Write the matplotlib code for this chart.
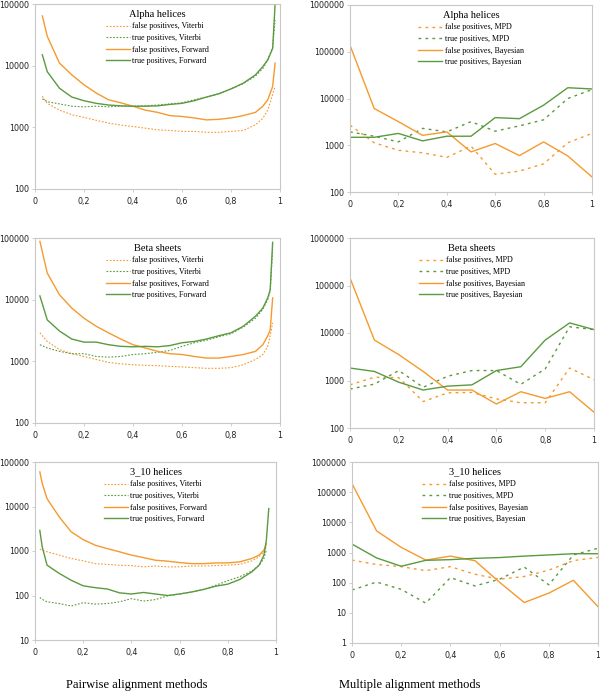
import numpy as np
import matplotlib.pyplot as plt
from matplotlib.ticker import FuncFormatter, FixedLocator

# ---------- pairwise: Alpha helices ----------
a_x = [0.03, 0.05, 0.1, 0.15, 0.2, 0.25, 0.3, 0.35, 0.4, 0.45, 0.5, 0.55, 0.6,
       0.65, 0.7, 0.75, 0.8, 0.85, 0.9, 0.93, 0.95, 0.97, 0.98]
a_fp_vit = [3200, 2450, 1900, 1600, 1450, 1300, 1170, 1090, 1030, 970, 910, 890, 860,
            860, 830, 830, 860, 890, 1100, 1400, 1900, 3400, 4600]
a_tp_vit = [2900, 2600, 2400, 2200, 2150, 2200, 2150, 2200, 2200, 2230, 2300, 2400, 2500,
            2800, 3100, 3500, 4200, 5100, 6800, 9000, 12400, 20000, 55000]
a_fp_fwd = [64000, 30000, 11000, 7100, 4900, 3600, 2800, 2500, 2200, 1900, 1750, 1550, 1500,
            1420, 1320, 1350, 1420, 1550, 1750, 2200, 2800, 4600, 11000]
a_tp_fwd = [15000, 8000, 4300, 3100, 2700, 2450, 2300, 2230, 2200, 2200, 2230, 2350, 2450,
            2700, 3100, 3500, 4200, 5200, 7100, 9700, 12400, 19000, 100000]

# ---------- pairwise: Beta sheets ----------
b_x = [0.02, 0.05, 0.1, 0.15, 0.2, 0.25, 0.3, 0.35, 0.4, 0.45, 0.5, 0.55, 0.6,
       0.65, 0.7, 0.75, 0.8, 0.85, 0.9, 0.93, 0.95, 0.96, 0.97]
b_fp_vit = [2900, 2100, 1550, 1330, 1200, 1070, 960, 910, 880, 860, 850, 830, 810,
            790, 770, 770, 790, 880, 1070, 1290, 1750, 2600, 4200]
b_tp_vit = [1860, 1650, 1450, 1330, 1330, 1200, 1170, 1200, 1290, 1330, 1400, 1500, 1750,
            2000, 2200, 2500, 2800, 3600, 5000, 7000, 10000, 14000, 65000]
b_fp_fwd = [88000, 27000, 12000, 7300, 5000, 3700, 2900, 2300, 1860, 1650, 1450, 1330, 1290,
            1200, 1130, 1130, 1200, 1290, 1450, 1860, 2600, 3200, 10700]
b_tp_fwd = [11500, 4700, 3100, 2300, 2050, 2050, 1860, 1750, 1720, 1750, 1720, 1800, 2000,
            2100, 2300, 2600, 2900, 3700, 5400, 7300, 10700, 14500, 85000]

# ---------- pairwise: 3_10 helices ----------
h_x = [0.02, 0.03, 0.05, 0.1, 0.15, 0.2, 0.25, 0.3, 0.35, 0.4, 0.45, 0.5, 0.55, 0.6,
       0.65, 0.7, 0.75, 0.8, 0.85, 0.9, 0.93, 0.95, 0.96]
h_fp_vit = [1100, 1050, 960, 810, 680, 600, 520, 500, 480, 470, 440, 460, 440, 440,
            460, 460, 470, 480, 500, 600, 740, 960, 1250]
h_tp_vit = [90, 82, 72, 66, 58, 69, 64, 66, 72, 85, 75, 81, 98, 108,
            120, 137, 170, 215, 265, 355, 480, 680, 1050]
h_fp_fwd = [60000, 33000, 15000, 5900, 2700, 1800, 1350, 1130, 960, 810, 710, 620, 590, 550,
            520, 520, 540, 540, 570, 680, 810, 1050, 1450]
h_tp_x = h_x + [0.97]
h_tp_fwd = [2900, 1240, 480, 315, 220, 165, 150, 140, 115, 108, 117, 108, 100, 108,
            120, 137, 162, 180, 230, 340, 480, 810, 1750, 9000]

# ---------- multiple alignment ----------
m_x = [0, 0.1, 0.2, 0.3, 0.4, 0.5, 0.6, 0.7, 0.8, 0.9, 1.0]
ma_fp_mpd = [2700, 1130, 780, 690, 550, 960, 240, 280, 400, 1130, 1790]
ma_tp_mpd = [1930, 1560, 1180, 2300, 1930, 3200, 2000, 2600, 3500, 10000, 15500]
ma_fp_bay = [138000, 6100, 3200, 1630, 1930, 720, 1090, 600, 1180, 590, 210]
ma_tp_bay = [1480, 1480, 1790, 1240, 1560, 1560, 3900, 3700, 7200, 17000, 16000]

mb_fp_mpd = [810, 1170, 1150, 360, 550, 560, 410, 340, 340, 1830, 1040]
mb_tp_mpd = [660, 840, 1620, 720, 1230, 1620, 1620, 830, 1750, 13500, 11800]
mb_fp_bay = [144000, 7100, 3500, 1550, 630, 630, 320, 580, 420, 580, 215]
mb_tp_bay = [1830, 1550, 920, 630, 760, 810, 1620, 1950, 7100, 16300, 11800]

mh_fp_mpd = [560, 400, 340, 250, 340, 190, 130, 160, 260, 540, 690]
mh_tp_mpd = [57, 105, 60, 21, 147, 78, 130, 330, 85, 830, 1380]
mh_fp_bay = [192000, 5200, 1480, 560, 760, 535, 103, 22, 45, 120, 16]
mh_tp_bay = [1900, 660, 350, 550, 580, 640, 680, 760, 830, 910, 910]

ORANGE = "#f59a2e"
GREEN = "#5a9a40"
SERIF = "Liberation Serif"

fig = plt.figure(figsize=(6.0, 6.98), dpi=100)
W, H = 600, 698


def add_ax(l, r, t, b):
    return fig.add_axes([l / W, (H - b) / H, (r - l) / W, (b - t) / H])


def style(ax, ylo, yhi, xmax=1.0):
    ax.set_yscale("log")
    ax.set_ylim(ylo, yhi)
    ax.set_xlim(0, xmax)
    ax.yaxis.set_major_locator(FixedLocator([10 ** k for k in range(int(np.log10(ylo)), int(np.log10(yhi)) + 1)]))
    ax.yaxis.set_minor_locator(FixedLocator([]))
    ax.yaxis.set_major_formatter(FuncFormatter(lambda v, p: f"{v:.0f}"))
    ax.set_xticks([0, 0.2, 0.4, 0.6, 0.8, 1.0])
    ax.xaxis.set_major_formatter(FuncFormatter(lambda v, p: f"{v:g}".replace(".", ",")))
    for s in ax.spines.values():
        s.set_color("#c8c8c8")
        s.set_linewidth(0.8)
    ax.tick_params(length=2, width=0.6, color="#c8c8c8", labelsize=5.8, pad=2,
                   labelcolor="#222222")
    ax.tick_params(axis="x", pad=3.5)


def legend(ax, title, names):
    leg = ax.legend(names, loc="upper center", bbox_to_anchor=(0.5, 0.995), frameon=False,
                    title=title, prop={"family": SERIF, "size": 5.8},
                    handlelength=3.0, handletextpad=0.3, labelspacing=0.45,
                    borderaxespad=0.2)
    leg.get_title().set_fontfamily(SERIF)
    leg.get_title().set_fontsize(7.5)


def pair_panel(ax, x, fpv, tpv, fpf, tpf, title, tpx=None):
    tpx = x if tpx is None else tpx
    ax.plot(x, fpv, color=ORANGE, lw=0.8, ls=(0, (1.5, 1.5)))
    ax.plot(x, tpv, color=GREEN, lw=0.8, ls=(0, (1.5, 1.5)))
    ax.plot(x, fpf, color=ORANGE, lw=1.0)
    ax.plot(tpx, tpf, color=GREEN, lw=1.0)
    legend(ax, title, ["false positives, Viterbi", "true positives, Viterbi",
                       "false positives, Forward", "true positives, Forward"])


def mult_panel(ax, x, fpm, tpm, fpb, tpb, title):
    ax.plot(x, fpm, color=ORANGE, lw=1.0, ls=(0, (2, 3)))
    ax.plot(x, tpm, color=GREEN, lw=1.0, ls=(0, (2, 3)))
    ax.plot(x, fpb, color=ORANGE, lw=1.0)
    ax.plot(x, tpb, color=GREEN, lw=1.0)
    legend(ax, title, ["false positives, MPD", "true positives, MPD",
                       "false positives, Bayesian", "true positives, Bayesian"])


ax1 = add_ax(35, 280, 4, 189)
style(ax1, 100, 100000)
pair_panel(ax1, a_x, a_fp_vit, a_tp_vit, a_fp_fwd, a_tp_fwd, "Alpha helices")

ax2 = add_ax(350, 592, 5, 192)
style(ax2, 100, 1000000)
mult_panel(ax2, m_x, ma_fp_mpd, ma_tp_mpd, ma_fp_bay, ma_tp_bay, "Alpha helices")

ax3 = add_ax(35, 280, 238, 423)
style(ax3, 100, 100000)
pair_panel(ax3, b_x, b_fp_vit, b_tp_vit, b_fp_fwd, b_tp_fwd, "Beta sheets")

ax4 = add_ax(350, 594, 238, 428)
style(ax4, 100, 1000000)
mult_panel(ax4, m_x, mb_fp_mpd, mb_tp_mpd, mb_fp_bay, mb_tp_bay, "Beta sheets")

ax5 = add_ax(35, 276, 462, 640)
style(ax5, 10, 100000)
pair_panel(ax5, h_x, h_fp_vit, h_tp_vit, h_fp_fwd, h_tp_fwd, "3_10 helices", tpx=h_tp_x)

ax6 = add_ax(352, 598, 462, 643)
style(ax6, 1, 1000000)
mult_panel(ax6, m_x, mh_fp_mpd, mh_tp_mpd, mh_fp_bay, mh_tp_bay, "3_10 helices")

fig.text(137 / W, 1 - 685 / H, "Pairwise alignment methods", family=SERIF, fontsize=9,
         ha="center", va="center")
fig.text(410 / W, 1 - 685 / H, "Multiple alignment methods", family=SERIF, fontsize=9,
         ha="center", va="center")

fig.savefig("out.png", dpi=100, facecolor="white")
